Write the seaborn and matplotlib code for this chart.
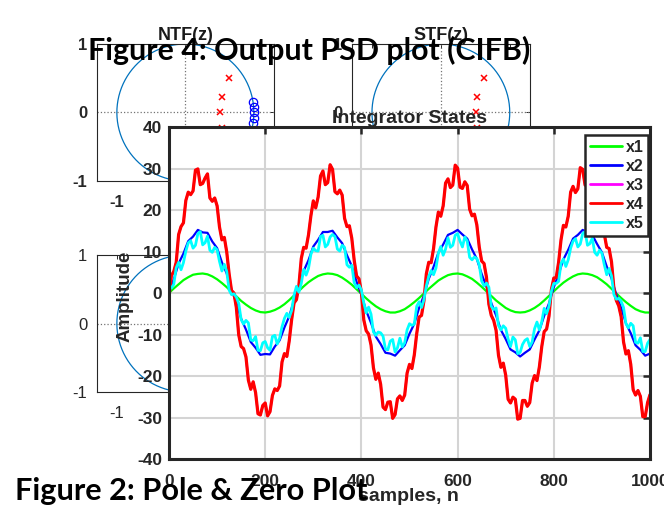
import numpy as np
import pandas as pd
import matplotlib
matplotlib.use("Agg")
import matplotlib.pyplot as plt
import seaborn as sns

# integrator states; smooth ones read every 10 samples, noisy ones every 5
samples10 = list(range(0, 1001, 10))
samples5 = list(range(0, 1001, 5))

x1 = [0.0, 1.1, 2.1, 3.1, 3.8, 4.4, 4.6, 4.7, 4.5, 4.0, 3.3, 2.4, 1.4, 0.3, -0.8, -1.9, -2.8, -3.6, -4.2, -4.6,
      -4.7, -4.5, -4.1, -3.5, -2.7, -1.7, -0.6, 0.5, 1.6, 2.6, 3.4, 4.1, 4.5, 4.7, 4.6, 4.3, 3.7, 2.9, 2.0, 0.9,
      -0.2, -1.3, -2.3, -3.2, -3.9, -4.4, -4.7, -4.7, -4.4, -3.9, -3.1, -2.2, -1.2, -0.1, 1.0, 2.0, 3.0, 3.7, 4.3, 4.6,
      4.7, 4.5, 4.0, 3.4, 2.5, 1.5, 0.4, -0.7, -1.8, -2.7, -3.6, -4.2, -4.6, -4.7, -4.6, -4.2, -3.6, -2.8, -1.8, -0.7,
      0.4, 1.5, 2.5, 3.3, 4.0, 4.5, 4.7, 4.6, 4.3, 3.8, 3.0, 2.1, 1.0, -0.1, -1.2, -2.2, -3.1, -3.9, -4.4, -4.7, -4.7]

x2 = [0.3, 3.3, 7.1, 9.5, 12.5, 13.6, 15.2, 14.6, 14.5, 12.4, 10.8, 7.4, 4.7, 0.7, -2.3, -6.2, -8.8, -11.8, -13.2, -14.9,
      -14.7, -14.8, -12.9, -11.4, -8.3, -5.6, -1.7, 1.4, 5.3, 7.9, 11.2, 12.8, 14.7, 14.7, 15.0, 13.4, 12.0, 9.1, 6.5, 2.7,
      -0.4, -4.3, -7.2, -10.5, -12.3, -14.4, -14.6, -15.1, -13.8, -12.6, -9.8, -7.4, -3.6, -0.6, 3.4, 6.3, 9.7, 11.7, 14.0, 14.5,
      15.2, 14.1, 13.1, 10.5, 8.2, 4.6, 1.5, -2.4, -5.4, -8.9, -11.1, -13.6, -14.3, -15.3, -14.4, -13.6, -11.2, -9.0, -5.5, -2.5,
      1.4, 4.5, 8.1, 10.4, 13.1, 14.0, 15.2, 14.6, 14.0, 11.8, 9.8, 6.4, 3.5, -0.4, -3.6, -7.3, -9.7, -12.6, -13.7, -15.1, -14.6]

x4 = [-0.8, 4.2, 5.2, 7.4, 14.1, 16.0, 16.9, 22.3, 24.3, 23.7, 24.6, 29.6, 29.9, 26.1, 26.4, 27.7, 28.7, 22.9, 22.1, 22.9,
      21.0, 15.9, 12.8, 13.4, 9.9, 4.6, 0.6, 0.0, -3.5, -10.1, -12.9, -13.4, -15.4, -21.0, -23.2, -21.4, -24.0, -29.1, -29.4, -27.1,
      -26.5, -29.6, -28.6, -24.7, -23.1, -23.5, -22.4, -16.6, -14.6, -15.3, -11.5, -6.4, -2.4, -1.6, 1.8, 8.3, 11.0, 10.8, 14.0, 18.6,
      22.2, 20.5, 23.1, 28.2, 29.4, 26.1, 26.6, 30.9, 29.8, 24.4, 23.9, 24.8, 23.6, 18.0, 16.0, 16.2, 13.2, 7.9, 4.1, 3.4,
      0.2, -6.5, -9.1, -9.9, -12.5, -18.0, -20.8, -19.3, -22.0, -27.5, -28.1, -26.3, -26.2, -30.2, -29.3, -25.5, -24.8, -25.9, -24.6, -19.3,
      -17.2, -18.2, -14.9, -9.8, -5.8, -5.4, -1.9, 4.6, 7.4, 7.3, 10.7, 15.9, 19.5, 18.5, 21.0, 26.5, 27.5, 25.4, 26.0, 30.8,
      30.1, 25.5, 25.2, 26.8, 25.9, 20.2, 18.6, 19.0, 16.4, 11.1, 7.7, 7.1, 3.8, -2.7, -5.4, -6.6, -9.0, -15.0, -17.9, -16.9,
      -19.8, -25.6, -26.5, -25.1, -25.6, -30.4, -30.2, -25.9, -25.9, -27.3, -26.4, -21.7, -19.9, -21.1, -17.8, -12.9, -9.3, -8.7, -5.6, 0.8,
      3.6, 3.7, 7.4, 12.8, 16.3, 15.9, 18.5, 24.3, 25.7, 24.2, 25.1, 30.2, 29.8, 26.0, 26.2, 28.2, 27.3, 22.1, 20.9, 21.8,
      19.4, 14.2, 11.0, 10.7, 7.5, 1.0, -1.8, -3.1, -5.7, -11.8, -14.7, -13.9, -17.2, -23.3, -24.6, -23.5, -24.9, -29.8, -29.8, -26.4,
      -24.5]

# x3 lies under x4 in the picture and cannot be told apart from it
x3 = list(x4)

x5 = [1.2, 1.2, 2.1, 6.1, 7.4, 5.6, 7.3, 10.1, 12.1, 12.6, 10.8, 11.5, 14.3, 14.8, 11.6, 12.1, 13.7, 10.3, 9.8, 11.0,
      10.4, 7.6, 5.3, 6.9, 5.2, 0.7, -0.4, -0.2, -1.0, -2.5, -6.4, -7.5, -6.6, -7.2, -11.3, -11.5, -10.5, -13.8, -13.9, -12.0,
      -11.7, -13.2, -13.8, -10.5, -10.2, -12.3, -10.9, -8.1, -6.1, -4.9, -5.9, -4.2, -0.5, 1.6, 0.2, 2.3, 5.7, 4.3, 5.9, 9.3,
      10.8, 10.2, 10.1, 13.6, 13.9, 11.1, 11.7, 13.5, 14.1, 13.6, 10.6, 10.1, 11.5, 11.0, 6.8, 6.2, 6.7, 2.5, 1.3, 1.9,
      0.7, -2.4, -4.8, -3.4, -5.1, -9.4, -10.2, -9.4, -9.6, -10.4, -13.5, -13.7, -11.6, -11.2, -14.2, -13.2, -10.9, -13.0, -12.0, -8.9,
      -7.4, -7.8, -7.5, -3.2, -2.1, -3.5, -1.6, 1.7, 4.0, 5.4, 4.4, 6.0, 9.6, 11.2, 9.1, 10.6, 13.3, 11.0, 11.5, 13.9,
      14.3, 12.5, 11.1, 13.5, 12.5, 8.6, 8.0, 8.7, 8.3, 6.8, 2.9, 1.7, 2.4, 1.4, -3.2, -4.0, -3.6, -7.8, -8.9, -7.9,
      -8.5, -11.1, -12.9, -10.6, -11.3, -14.6, -14.3, -12.4, -11.4, -11.0, -12.9, -11.8, -8.6, -7.0, -8.9, -6.9, -3.7, -5.0, -3.2, 0.4,
      2.3, 2.3, 2.8, 7.1, 8.2, 6.4, 8.0, 10.8, 12.5, 13.1, 11.1, 11.8, 14.3, 14.8, 11.5, 11.9, 13.2, 9.8, 9.1, 10.3,
      9.6, 6.8, 4.4, 5.9, 4.1, -0.4, -1.5, -1.3, -2.0, -3.5, -7.4, -8.4, -7.3, -7.9, -11.9, -12.1, -10.8, -14.1, -14.1, -12.1,
      -11.2]

state_names = ["x1", "x2", "x3", "x4", "x5"]
state_data = [(samples10, x1), (samples10, x2), (samples5, x3), (samples5, x4), (samples5, x5)]
state_colors = ["#00ff00", "#0000ff", "#ff00ff", "#ff0000", "#00ffff"]
state_widths = [1.6, 1.6, 1.6, 2.3, 2.0]

# pole / zero locations
ntf_poles_re = [0.64, 0.64, 0.54, 0.54, 0.51]
ntf_poles_im = [0.50, -0.50, 0.22, -0.22, 0.0]
ntf_zeros_re = [0.99, 0.99, 0.997, 0.997, 1.0]
ntf_zeros_im = [0.15, -0.15, 0.08, -0.08, 0.0]
stf_poles_re = [0.63, 0.63, 0.53, 0.53, 0.51]
stf_poles_im = [0.50, -0.50, 0.22, -0.22, 0.0]

sns.set_style("white")
plt.rcParams["font.family"] = ["Liberation Sans", "DejaVu Sans"]
plt.rcParams["axes.unicode_minus"] = False

W, H = 664, 511
fig = plt.figure(figsize=(W / 100, H / 100), dpi=100)


def rect(left, top, right, bottom):
    return [left / W, 1 - bottom / H, (right - left) / W, (bottom - top) / H]


def pz_axes(r, title, poles, zeros, bold):
    ax = fig.add_axes(r, zorder=1)
    theta = np.linspace(0, 2 * np.pi, 400)
    ax.plot(np.cos(theta), np.sin(theta), color="#0072BD", lw=0.9)
    ax.axhline(0, color="0.45", ls=":", lw=0.9)
    ax.axvline(0, color="0.45", ls=":", lw=0.9)
    if poles:
        ax.plot(poles[0], poles[1], "x", color="red", ms=4, mew=1.1, ls="none")
    if zeros:
        ax.plot(zeros[0], zeros[1], "o", mfc="none", mec="blue", ms=6, mew=0.9, ls="none")
    ax.set_xlim(-1.29, 1.294)
    ax.set_ylim(-1, 1)
    ax.set_xticks([-1, 0, 1])
    ax.set_yticks([-1, 0, 1])
    ax.tick_params(direction="in", length=3, width=0.7, top=True, right=True,
                   labelsize=12, labelcolor="#262626", pad=7)
    ax.tick_params(axis="x", pad=10)
    for lbl in ax.get_xticklabels() + ax.get_yticklabels():
        lbl.set_fontweight("bold" if bold else "normal")
    for sp in ax.spines.values():
        sp.set_linewidth(0.8)
        sp.set_color("#262626")
    if title:
        ax.set_title(title, fontsize=13, fontweight="bold", pad=3, color="#1a1a1a")
    return ax


pz_axes(rect(97, 44, 274, 181), "NTF(z)", (ntf_poles_re, ntf_poles_im), (ntf_zeros_re, ntf_zeros_im), True)
pz_axes(rect(352, 44, 530, 181), "STF(z)", (stf_poles_re, stf_poles_im), None, True)
pz_axes(rect(97, 255, 274, 392), None, None, None, False)

# main plot
ax = fig.add_axes(rect(169, 127, 650, 459), zorder=2)
ax.set_facecolor("white")
for name, col, lw, (xs, vals) in zip(state_names, state_colors, state_widths, state_data):
    df = pd.DataFrame({"n": xs, "value": vals})
    sns.lineplot(data=df, x="n", y="value", color=col, lw=lw, label=name, ax=ax,
                 estimator=None, sort=False)

ax.set_xlim(0, 1000)
ax.set_ylim(-40, 40)
ax.set_xticks(range(0, 1001, 200))
ax.set_yticks(range(-40, 41, 10))
ax.grid(True, color="#d4d4d4", lw=1.5)
ax.set_axisbelow(True)
ax.tick_params(direction="in", length=5, width=1.8, top=True, right=True,
               labelsize=12.5, labelcolor="#262626", color="#262626")
ax.tick_params(axis="x", pad=11)
ax.tick_params(axis="y", pad=5)
for lbl in ax.get_xticklabels() + ax.get_yticklabels():
    lbl.set_fontweight("bold")
for sp in ax.spines.values():
    sp.set_linewidth(2.2)
    sp.set_color("#262626")

ax.set_title("Integrator States", fontsize=14, fontweight="bold", pad=3)
ax.set_xlabel("samples, n", fontsize=14, fontweight="bold", color="#262626")
ax.set_ylabel("Amplitude", fontsize=13.5, fontweight="bold", color="#262626")
ax.xaxis.set_label_coords(0.497, -0.086)
ax.yaxis.set_label_coords(-0.074, 0.49)

leg = ax.legend(loc="upper right", bbox_to_anchor=(0.996, 0.976), borderaxespad=0,
                frameon=True, fancybox=False, framealpha=1, edgecolor="#262626",
                prop={"weight": "bold", "size": 11.5}, handlelength=2.0,
                handletextpad=0.2, labelspacing=0.25, borderpad=0.3)
leg.get_frame().set_linewidth(1.8)
for line in leg.get_lines():
    line.set_linewidth(2.0)

# captions pasted over the figure
renderer = fig.canvas.get_renderer()


def caption(x, y, text, width):
    t = fig.text(x / W, 1 - y / H, text, ha="left", va="baseline", fontsize=22,
                 family=["Lato", "DejaVu Sans"], fontweight="bold", color="black", zorder=5)
    w = t.get_window_extent(renderer=renderer).width
    t.set_fontsize(22 * width / w)
    return t


caption(88, 60, "Figure 4: Output PSD plot (CIFB)", 442)
caption(15, 500, "Figure 2: Pole & Zero Plot", 352)

fig.savefig("out.png", dpi=100)
